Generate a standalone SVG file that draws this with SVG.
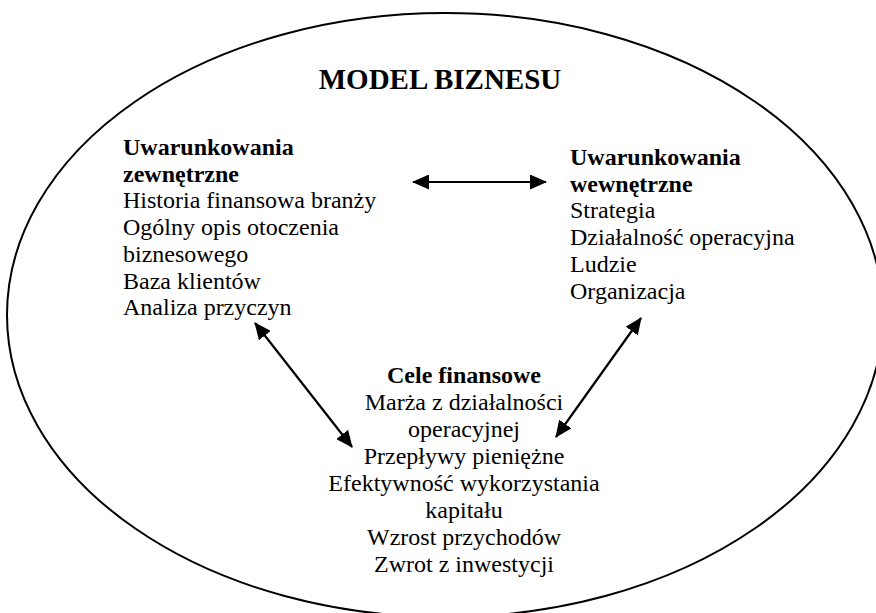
<svg xmlns="http://www.w3.org/2000/svg" width="876" height="613" viewBox="0 0 876 613">
<style>
text{font-family:"Liberation Serif","Times New Roman",serif;font-size:24px;fill:#000}
.b{font-weight:bold}
.t{font-weight:bold;font-size:29px}
.c{text-anchor:middle}
.con line{stroke:#000;stroke-width:2.2;fill:none;marker-start:url(#ah);marker-end:url(#ah)}
</style>
<defs>
<marker id="ah" viewBox="0 0 17 15" refX="16" refY="7.5" markerWidth="17" markerHeight="15" markerUnits="userSpaceOnUse" orient="auto-start-reverse">
<path d="M0,0 L17,7.5 L0,15 z" fill="#000"/>
</marker>
</defs>
<rect width="876" height="613" fill="#fff"/>
<g id="model">
<ellipse cx="445" cy="315" rx="438" ry="302" fill="none" stroke="#000" stroke-width="2"/>
<text class="t c" x="440" y="89">MODEL BIZNESU</text>
</g>
<g id="zewnetrzne">
<text x="123" y="155"><tspan class="b">Uwarunkowania</tspan><tspan class="b" x="123" dy="26.7">zewnętrzne</tspan><tspan x="123" dy="26.7">Historia finansowa branży</tspan><tspan x="123" dy="26.7">Ogólny opis otoczenia</tspan><tspan x="123" dy="26.7">biznesowego</tspan><tspan x="123" dy="26.7">Baza klientów</tspan><tspan x="123" dy="26.7">Analiza przyczyn</tspan></text>
</g>
<g id="wewnetrzne">
<text x="570" y="165"><tspan class="b">Uwarunkowania</tspan><tspan class="b" x="570" dy="26.7">wewnętrzne</tspan><tspan x="570" dy="26.7">Strategia</tspan><tspan x="570" dy="26.7">Działalność operacyjna</tspan><tspan x="570" dy="26.7">Ludzie</tspan><tspan x="570" dy="26.7">Organizacja</tspan></text>
</g>
<g id="cele">
<text class="c" x="464" y="383"><tspan class="b">Cele finansowe</tspan><tspan x="464" dy="27">Marża z działalności</tspan><tspan x="464" dy="27">operacyjnej</tspan><tspan x="464" dy="27">Przepływy pieniężne</tspan><tspan x="464" dy="27">Efektywność wykorzystania</tspan><tspan x="464" dy="27">kapitału</tspan><tspan x="464" dy="27">Wzrost przychodów</tspan><tspan x="464" dy="27">Zwrot z inwestycji</tspan></text>
</g>
<g id="connectors" class="con">
<line x1="413" y1="182" x2="546" y2="182"/>
<line x1="255" y1="323" x2="352" y2="447"/>
<line x1="641" y1="318" x2="556" y2="437"/>
</g>
</svg>
